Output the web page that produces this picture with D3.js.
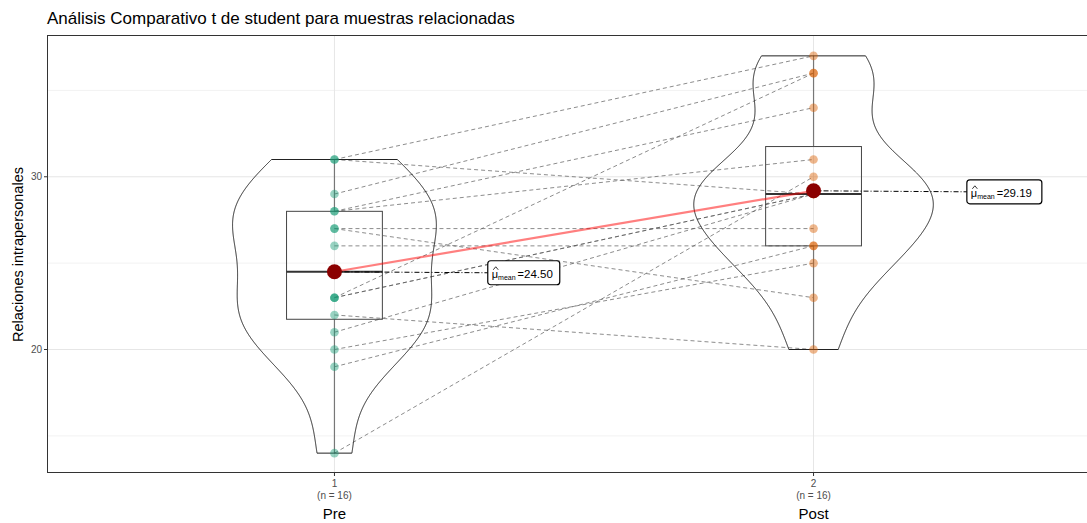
<!DOCTYPE html>
<html>
<head>
<meta charset="utf-8">
<script src="https://cdn.jsdelivr.net/npm/d3@7"></script>
<style>
  body { margin: 0; background: #fff; }
  svg { display: block; font-family: "Liberation Sans", Arial, sans-serif; }
</style>
</head>
<body>
<div id="chart"></div>
<script>
// data
const groups = ["Pre", "Post"];
const groupTicks = ["1", "2"];
const groupN = ["(n = 16)", "(n = 16)"];
// paired values, pre[i] <-> post[i]
const preValues  = [31, 31, 29, 28, 28, 27, 27, 26, 23, 23, 23, 22, 21, 20, 19, 14];
const postValues = [37, 29, 36, 34, 31, 23, 27, 26, 36, 29, 29, 20, 29, 25, 26, 30];
const yTicks = [20, 30];
const yMinor = [15, 25, 35];
const colors = ["#1B9E77", "#D95F02"];

const width = 1087;
const height = 523;
const panel = {left: 47, top: 36, right: 1101, bottom: 473};

const svg = d3.select("#chart")
  .append("svg")
  .attr("width", width)
  .attr("height", height);

const x = d3.scaleLinear().domain([0.4, 2.6]).range([panel.left, panel.right]);
const y = d3.scaleLinear().domain([12.85, 38.15]).range([panel.bottom, panel.top]);

const data = [preValues, postValues];

// grid
const grid = svg.append("g");
grid.selectAll("line.minor")
  .data(yMinor)
  .enter()
  .append("line")
  .attr("x1", panel.left).attr("x2", panel.right)
  .attr("y1", d => y(d)).attr("y2", d => y(d))
  .attr("stroke", "#f2f2f2").attr("stroke-width", 1);
grid.selectAll("line.major")
  .data(yTicks)
  .enter()
  .append("line")
  .attr("x1", panel.left).attr("x2", panel.right)
  .attr("y1", d => y(d)).attr("y2", d => y(d))
  .attr("stroke", "#e6e6e6").attr("stroke-width", 1);
grid.selectAll("line.vert")
  .data([1, 2])
  .enter()
  .append("line")
  .attr("x1", d => x(d)).attr("x2", d => x(d))
  .attr("y1", panel.top).attr("y2", panel.bottom)
  .attr("stroke", "#e6e6e6").attr("stroke-width", 1);

// paired dashed lines
svg.append("g")
  .selectAll("line")
  .data(preValues.map((v, i) => [v, postValues[i]]))
  .enter()
  .append("line")
  .attr("x1", x(1)).attr("x2", x(2))
  .attr("y1", d => y(d[0])).attr("y2", d => y(d[1]))
  .attr("stroke", "#555")
  .attr("stroke-opacity", 0.85)
  .attr("stroke-width", 0.8)
  .attr("stroke-dasharray", "4,3");

// boxplots
const boxW = 0.1;
data.forEach((vals, gi) => {
  const s = vals.slice().sort(d3.ascending);
  const q1 = d3.quantile(s, 0.25), med = d3.quantile(s, 0.5), q3 = d3.quantile(s, 0.75);
  const iqr = q3 - q1;
  const lo = d3.min(s.filter(v => v >= q1 - 1.5 * iqr));
  const hi = d3.max(s.filter(v => v <= q3 + 1.5 * iqr));
  const cx = gi + 1;
  const g = svg.append("g");
  g.append("line")
    .attr("x1", x(cx)).attr("x2", x(cx))
    .attr("y1", y(hi)).attr("y2", y(q3))
    .attr("stroke", "#777").attr("stroke-width", 1.2);
  g.append("line")
    .attr("x1", x(cx)).attr("x2", x(cx))
    .attr("y1", y(q1)).attr("y2", y(lo))
    .attr("stroke", "#777").attr("stroke-width", 1.2);
  g.append("rect")
    .attr("x", x(cx - boxW)).attr("width", x(cx + boxW) - x(cx - boxW))
    .attr("y", y(q3)).attr("height", y(q1) - y(q3))
    .attr("fill", "none").attr("stroke", "#444").attr("stroke-width", 1);
  g.append("line")
    .attr("x1", x(cx - boxW)).attr("x2", x(cx + boxW))
    .attr("y1", y(med)).attr("y2", y(med))
    .attr("stroke", "#333").attr("stroke-width", 2);
});

// violins (gaussian kde, bw.nrd0, trimmed, scale = area)
function kde(vals) {
  const s = vals.slice().sort(d3.ascending);
  const sd = d3.deviation(s);
  const iqr = d3.quantile(s, 0.75) - d3.quantile(s, 0.25);
  const bw = 0.9 * Math.min(sd, iqr / 1.34) * Math.pow(s.length, -0.2);
  const [lo, hi] = d3.extent(s);
  return d3.range(512).map(i => {
    const t = lo + (hi - lo) * i / 511;
    const dens = d3.mean(s, v => Math.exp(-0.5 * ((t - v) / bw) ** 2) / Math.sqrt(2 * Math.PI)) / bw;
    return [t, dens];
  });
}
const densities = data.map(kde);
const maxDens = d3.max(densities, d => d3.max(d, p => p[1]));
const violinW = 0.25;

densities.forEach((dens, gi) => {
  const cx = gi + 1;
  const area = d3.area()
    .y(d => y(d[0]))
    .x0(d => x(cx - violinW * d[1] / maxDens))
    .x1(d => x(cx + violinW * d[1] / maxDens));
  svg.append("path")
    .datum(dens)
    .attr("d", area)
    .attr("fill", "none")
    .attr("stroke", "#222")
    .attr("stroke-width", 1);
});

// points
data.forEach((vals, gi) => {
  svg.append("g")
    .selectAll("circle")
    .data(vals)
    .enter()
    .append("circle")
    .attr("cx", x(gi + 1))
    .attr("cy", d => y(d))
    .attr("r", 4.3)
    .attr("fill", colors[gi])
    .attr("fill-opacity", 0.45);
});

// means
const means = data.map(v => d3.mean(v));

svg.append("line")
  .attr("x1", x(1)).attr("x2", x(2))
  .attr("y1", y(means[0])).attr("y2", y(means[1]))
  .attr("stroke", "#ff0000").attr("stroke-opacity", 0.5).attr("stroke-width", 2.2);

const labelOffset = 0.32;
means.forEach((m, gi) => {
  const cx = gi + 1;
  svg.append("line")
    .attr("x1", x(cx)).attr("x2", x(cx + labelOffset))
    .attr("y1", y(m)).attr("y2", y(m) + 1)
    .attr("stroke", "#000").attr("stroke-width", 1)
    .attr("stroke-dasharray", "5,2,1,2");
});

means.forEach((m, gi) => {
  svg.append("circle")
    .attr("cx", x(gi + 1)).attr("cy", y(m))
    .attr("r", 7.5)
    .attr("fill", "#8B0000");
});

means.forEach((m, gi) => {
  const lx = x(gi + 1 + labelOffset);
  const ly = y(m) + 1;
  const g = svg.append("g").attr("transform", `translate(${lx},${ly})`);
  const bw = gi === 0 ? 72 : 75;
  g.append("rect")
    .attr("x", 0).attr("y", -12).attr("width", bw).attr("height", 24)
    .attr("rx", 3)
    .attr("fill", "#fff").attr("stroke", "#000").attr("stroke-width", 1.2);
  // hat over mu
  g.append("path")
    .attr("d", "M5.5,-3 L8,-6 L10.5,-3")
    .attr("fill", "none").attr("stroke", "#000").attr("stroke-width", 0.8);
  const t = g.append("text").attr("x", 4).attr("y", 5).attr("font-size", 11).attr("fill", "#000");
  t.append("tspan").text("μ");
  t.append("tspan").attr("font-size", 7).attr("dy", 2).text("mean");
  t.append("tspan").attr("font-size", 11).attr("dy", -2).attr("dx", 2).text("=");
  t.append("tspan").attr("font-size", 11.5).text(d3.format(".2f")(m));
});

// panel border
svg.append("rect")
  .attr("x", panel.left + 0.5).attr("y", panel.top - 0.5)
  .attr("width", panel.right - panel.left).attr("height", panel.bottom - panel.top)
  .attr("fill", "none").attr("stroke", "#333").attr("stroke-width", 1);

// y axis
const yAxis = svg.append("g");
yAxis.selectAll("line")
  .data(yTicks)
  .enter()
  .append("line")
  .attr("x1", panel.left - 3).attr("x2", panel.left)
  .attr("y1", d => y(d)).attr("y2", d => y(d))
  .attr("stroke", "#333");
yAxis.selectAll("text")
  .data(yTicks)
  .enter()
  .append("text")
  .attr("x", panel.left - 5).attr("y", d => y(d) + 3.5)
  .attr("text-anchor", "end")
  .attr("font-size", 10).attr("fill", "#4d4d4d")
  .text(d => d);

svg.append("text")
  .attr("transform", `translate(23,${(panel.top + panel.bottom) / 2}) rotate(-90)`)
  .attr("text-anchor", "middle")
  .attr("font-size", 14.5).attr("fill", "#000")
  .text("Relaciones intrapersonales");

// x axis
const xAxis = svg.append("g");
groups.forEach((gname, gi) => {
  const cx = x(gi + 1);
  xAxis.append("line")
    .attr("x1", cx).attr("x2", cx)
    .attr("y1", panel.bottom).attr("y2", panel.bottom + 3)
    .attr("stroke", "#333");
  xAxis.append("text")
    .attr("x", cx).attr("y", panel.bottom + 14)
    .attr("text-anchor", "middle").attr("font-size", 10).attr("fill", "#4d4d4d")
    .text(groupTicks[gi]);
  xAxis.append("text")
    .attr("x", cx).attr("y", panel.bottom + 26)
    .attr("text-anchor", "middle").attr("font-size", 10).attr("fill", "#4d4d4d")
    .text(groupN[gi]);
  xAxis.append("text")
    .attr("x", cx).attr("y", panel.bottom + 46)
    .attr("text-anchor", "middle").attr("font-size", 15).attr("fill", "#000")
    .text(gname);
});

// title
svg.append("text")
  .attr("x", panel.left).attr("y", 24)
  .attr("font-size", 17).attr("fill", "#000")
  .text("Análisis Comparativo t de student para muestras relacionadas");
</script>
</body>
</html>
